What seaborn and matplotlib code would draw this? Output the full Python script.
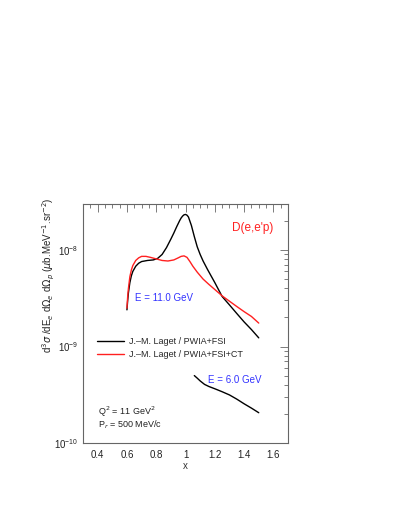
import numpy as np
import pandas as pd
import matplotlib
matplotlib.use("Agg")
import matplotlib.pyplot as plt
import matplotlib.ticker as mticker
import seaborn as sns

# ---- data ----
x_fsi_11 = [0.60, 0.605, 0.61, 0.62, 0.63, 0.64, 0.66, 0.68, 0.70, 0.74, 0.78, 0.81,
            0.84, 0.87, 0.90, 0.92, 0.94, 0.96, 0.97, 0.98, 0.99, 1.00, 1.01, 1.02,
            1.04, 1.06, 1.08, 1.10, 1.12, 1.15, 1.20, 1.25, 1.30, 1.35, 1.40, 1.45,
            1.50]
y_fsi_11 = [2.4e-9, 3.0e-9, 3.6e-9, 4.6e-9, 5.4e-9, 6.0e-9, 6.8e-9, 7.3e-9, 7.6e-9,
            7.8e-9, 7.9e-9, 8.2e-9, 9.0e-9, 1.06e-8, 1.3e-8, 1.5e-8, 1.75e-8,
            2.02e-8, 2.15e-8, 2.25e-8, 2.32e-8, 2.34e-8, 2.3e-8, 2.2e-8, 1.8e-8,
            1.38e-8, 1.08e-8, 9.0e-9, 7.7e-9, 6.3e-9, 4.6e-9, 3.3e-9, 2.7e-9,
            2.2e-9, 1.8e-9, 1.5e-9, 1.23e-9]

x_ct_11 = [0.60, 0.605, 0.61, 0.62, 0.63, 0.64, 0.66, 0.68, 0.70, 0.73, 0.76, 0.80,
           0.84, 0.88, 0.92, 0.95, 0.97, 0.99, 1.01, 1.03, 1.05, 1.08, 1.12, 1.16,
           1.20, 1.25, 1.30, 1.35, 1.40, 1.45, 1.50]
y_ct_11 = [2.5e-9, 3.3e-9, 4.0e-9, 5.3e-9, 6.2e-9, 6.9e-9, 7.8e-9, 8.3e-9, 8.6e-9,
           8.6e-9, 8.4e-9, 8.1e-9, 7.8e-9, 7.7e-9, 7.9e-9, 8.3e-9, 8.6e-9, 8.7e-9,
           8.4e-9, 7.6e-9, 6.8e-9, 5.9e-9, 5.0e-9, 4.4e-9, 3.9e-9, 3.35e-9, 2.95e-9,
           2.6e-9, 2.3e-9, 2.05e-9, 1.75e-9]

x_fsi_6 = [1.06, 1.08, 1.10, 1.13, 1.16, 1.20, 1.25, 1.30, 1.35, 1.40, 1.45, 1.50]
y_fsi_6 = [5.0e-10, 4.7e-10, 4.4e-10, 4.05e-10, 3.85e-10, 3.65e-10, 3.4e-10,
           3.15e-10, 2.85e-10, 2.55e-10, 2.3e-10, 2.06e-10]

legend_labels = ["J.\u2013M. Laget / PWIA+FSI", "J.\u2013M. Laget / PWIA+FSI+CT"]

sns.set_style("white")
plt.rcParams["font.family"] = ["Liberation Sans", "DejaVu Sans"]
plt.rcParams["mathtext.fontset"] = "dejavusans"

fig = plt.figure(figsize=(4.02, 5.21), dpi=100)
ax = fig.add_axes([0.2065, 0.1497, 0.51, 0.4587])

df1 = pd.DataFrame({"x": x_fsi_11, "y": y_fsi_11})
df2 = pd.DataFrame({"x": x_ct_11, "y": y_ct_11})
df3 = pd.DataFrame({"x": x_fsi_6, "y": y_fsi_6})

sns.lineplot(data=df1, x="x", y="y", ax=ax, color="black", lw=1.0, sort=False)
sns.lineplot(data=df2, x="x", y="y", ax=ax, color="#ff2020", lw=1.0, sort=False)
sns.lineplot(data=df3, x="x", y="y", ax=ax, color="black", lw=1.0, sort=False)

ax.set_yscale("log")
ax.set_xlim(0.3, 1.7)
ax.set_ylim(1e-10, 3e-8)

frame_c = "#666666"
for s in ax.spines.values():
    s.set_color(frame_c)
    s.set_linewidth(0.8)

ax.xaxis.set_major_locator(mticker.MultipleLocator(0.2))
ax.xaxis.set_minor_locator(mticker.MultipleLocator(0.05))
ax.xaxis.set_major_formatter(mticker.FuncFormatter(lambda v, p: f"{v:g}"))
ax.yaxis.set_major_locator(mticker.LogLocator(base=10, numticks=10))
ax.yaxis.set_minor_locator(mticker.LogLocator(base=10, subs=np.arange(2, 10), numticks=10))
ax.yaxis.set_major_formatter(mticker.LogFormatterMathtext())
ax.yaxis.set_minor_formatter(mticker.NullFormatter())

ax.tick_params(which="both", direction="in", top=True, right=True, color=frame_c,
               width=0.6, labelsize=7, labelcolor="#222222")
ax.tick_params(which="major", length=6)
ax.tick_params(which="minor", length=3)
ax.tick_params(axis="x", pad=5)

ax.set_xlabel("x", fontsize=7, color="#333333", labelpad=1)
ax.set_ylabel(r"d$^3\sigma$ /dE$_e$ d$\Omega_e$ d$\Omega_p$ ($\mu$b.MeV$^{-1}$.sr$^{-2}$)",
              fontsize=7, color="#222222")
ax.yaxis.set_label_coords(-0.125, 0.70)

lines = ax.get_lines()
ax.legend(handles=[lines[0], lines[1]], labels=legend_labels, loc="upper left",
          bbox_to_anchor=(0.05, 0.46), frameon=False, fontsize=6.5,
          handlelength=3.0, handletextpad=0.6, labelspacing=0.5, borderaxespad=0)

ax.text(0.83, 0.90, "D(e,e'p)", transform=ax.transAxes, color="#ff2020",
        fontsize=8.5, ha="center", va="center")
ax.text(0.255, 0.605, "E = 11.0 GeV", transform=ax.transAxes, color="#3333ff",
        fontsize=7, ha="left", va="center")
ax.text(0.61, 0.265, "E = 6.0 GeV", transform=ax.transAxes, color="#3333ff",
        fontsize=7, ha="left", va="center")
ax.text(0.075, 0.13, r"Q$^2$ = 11 GeV$^2$", transform=ax.transAxes, color="#222222",
        fontsize=6.5, ha="left", va="center")
ax.text(0.075, 0.078, r"P$_r$ = 500 MeV/c", transform=ax.transAxes, color="#222222",
        fontsize=6.5, ha="left", va="center")

fig.savefig("out.png", dpi=100)
